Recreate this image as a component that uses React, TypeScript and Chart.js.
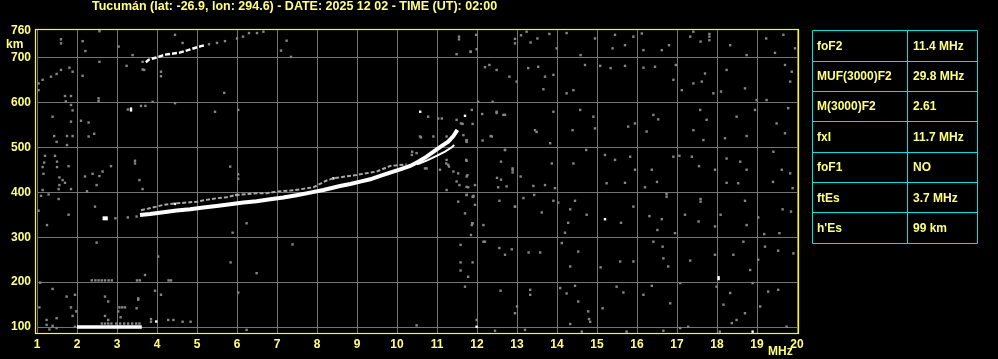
import { useEffect, useRef } from 'react';
import { Chart, registerables } from 'chart.js';

Chart.register(...registerables);

const TITLE = 'Tucumán (lat: -26.9, lon: 294.6) - DATE: 2025 12 02 - TIME (UT): 02:00';
const X_TICKS = [1, 2, 3, 4, 5, 6, 7, 8, 9, 10, 11, 12, 13, 14, 15, 16, 17, 18, 19, 20];
const Y_TICKS = [100, 200, 300, 400, 500, 600, 700, 760];
const X_UNIT = 'MHz';
const Y_UNIT = 'km';
const PARAM_NAMES = ['foF2', 'MUF(3000)F2', 'M(3000)F2', 'fxI', 'foF1', 'ftEs', "h'Es"];
const PARAM_VALUES = ['11.4 MHz', '29.8 MHz', '2.61', '11.7 MHz', 'NO', '3.7 MHz', '99 km'];

type P = [number, number];

// Sporadic-E trace (frequency MHz, virtual height km)
const ES_TRACE: P[] = [[2.0, 100.5], [3.62, 100.5]];
const ES_ECHO: P[] = [[2.64, 342], [2.77, 342]];

// F-layer main trace
const F_MAIN: P[] = [
  [3.575, 349.6], [3.825, 351.8], [4.16, 355.5], [4.49, 359.2], [4.83, 362.2], [5.16, 365.9],
  [5.49, 369.6], [5.83, 373.3], [6.16, 377], [6.49, 380], [6.83, 384.4], [7.16, 388.1],
  [7.49, 393.3], [7.83, 399.2], [8.16, 405.1], [8.575, 414], [8.83, 418.5], [9.08, 423.6],
  [9.33, 428.8], [9.58, 436.2], [9.83, 443.6], [10.08, 451], [10.33, 458.5], [10.53, 468],
  [10.74, 479.2], [10.95, 492.5], [11.12, 502.9], [11.28, 512.5], [11.41, 525.1], [11.51, 538.5],
];
const F_BRANCH: P[] = [
  [10.5, 462], [10.575, 464.4], [10.78, 471.8], [10.99, 480.7], [11.2, 490.3], [11.37, 500], [11.43, 505],
];
const F_UPPER: P[] = [
  [3.6, 360], [3.99, 368], [4.16, 372], [4.49, 375.5], [4.74, 377], [4.99, 379], [5.24, 383],
  [5.49, 386.6], [5.74, 389], [5.99, 394], [6.24, 396], [6.49, 397.7], [6.74, 397.7], [6.99, 401.5],
  [7.33, 403.7], [7.58, 406.6], [7.91, 411], [8.24, 426], [8.41, 431], [8.99, 438.5], [9.49, 446],
  [9.83, 458.5], [10.24, 462],
];
// Multi-hop F echo
const MULTI_HOP: P[] = [
  [3.72, 689], [3.8, 695], [4.0, 700], [4.2, 706], [4.55, 710], [4.7, 714], [5.1, 725], [5.2, 727],
];

const WHITE_DOTS: P[] = [
  [3.35, 586], [3.35, 582], [10.58, 579], [11.7, 570], [15.2, 340], [18.04, 211], [18.04, 207],
  [11.99, 101], [18.89, 90], [3.98, 112.5], [5.99, 394], [8.41, 431], [4.45, 374],
];

const NOISE: P[] = [
  // upper right
  [11.98, 750], [11.84, 713], [12.95, 731], [13.24, 757], [13.1, 749], [13.34, 733], [13.51, 742], [13.81, 752],
  [13.99, 720], [14.24, 754], [14.95, 742], [14.59, 705], [15.45, 750], [15.39, 720], [15.7, 727], [15.91, 746],
  [16.12, 753], [16.16, 716], [16.62, 716], [16.8, 727], [17.33, 746], [17.41, 757], [17.59, 735], [17.81, 746],
  [17.81, 738], [17.81, 752], [18.33, 727], [18.74, 705], [19.23, 742], [19.45, 710], [19.66, 750], [19.95, 720],
  [12.2, 678], [12.31, 683], [12.49, 672], [12.81, 657], [12.99, 646], [13.28, 676], [13.53, 679], [13.7, 657],
  [13.91, 661], [13.66, 629], [14.24, 620], [14.41, 627], [14.7, 683], [15.08, 681], [15.34, 676], [15.7, 681],
  [16.16, 677], [16.45, 679], [16.91, 650], [16.97, 683], [17.12, 627], [17.41, 642], [17.62, 646], [17.7, 664],
  [17.91, 620], [18.1, 624], [18.24, 672], [18.7, 631], [18.99, 605], [19.24, 605], [19.7, 683], [19.87, 668],
  [19.83, 646],
  [11.87, 583], [12.49, 579], [12.66, 572], [12.37, 524], [11.74, 516], [13.45, 538], [13.49, 534], [13.83, 509],
  [13.91, 579], [14.39, 538], [14.58, 583], [14.91, 568], [14.95, 542], [15.95, 553], [15.78, 546], [16.24, 535],
  [16.41, 572], [16.53, 562], [17.41, 538], [17.58, 583], [17.66, 516], [17.74, 561], [18.2, 520], [18.49, 568],
  [18.74, 525], [18.95, 583], [19.49, 553], [19.7, 531], [19.78, 587],
  [11.73, 472], [11.76, 438], [12.7, 494], [12.89, 453], [13.09, 435], [13.87, 464], [14.41, 464], [14.73, 494],
  [15.2, 483], [15.45, 472], [15.83, 479], [15.95, 450], [16.37, 450], [16.91, 479], [17.06, 481], [17.37, 479],
  [17.55, 458], [17.95, 450], [18.24, 475], [18.58, 468], [18.74, 450], [19.41, 490], [19.62, 450], [19.83, 442],
  // lower right
  [11.74, 412], [11.95, 416], [12.53, 411], [12.74, 413], [13.41, 414], [13.7, 416], [13.95, 409], [15.24, 420],
  [15.7, 421], [16.2, 411], [16.5, 423], [16.74, 390], [16.74, 396], [17.59, 379], [17.59, 385], [18.24, 421],
  [18.53, 420], [19.4, 423], [19.89, 409],
  [11.91, 392], [12.56, 381], [12.95, 368], [13.16, 387], [13.43, 394], [13.62, 355], [13.91, 381], [14.03, 377],
  [14.33, 362], [14.45, 381], [14.74, 350], [14.28, 332], [14.2, 310], [15.6, 332], [15.91, 368], [16.31, 347],
  [16.51, 316], [16.62, 340], [16.95, 309], [17.2, 350], [17.54, 335], [17.95, 324], [18.09, 350], [18.7, 381],
  [18.74, 327], [19.03, 344], [19.18, 307], [19.56, 309], [19.64, 362], [19.85, 357],
  [11.88, 331], [12.16, 290], [12.56, 276], [12.7, 261], [12.87, 273], [13.58, 266], [13.29, 266], [14.12, 287],
  [14.33, 235], [14.53, 268], [15.09, 233], [15.58, 246], [15.91, 246], [16.41, 290], [16.64, 279], [16.66, 253],
  [16.78, 235], [17.33, 248], [17.95, 261], [18.41, 261], [18.66, 290], [18.83, 227], [19.03, 250], [19.2, 279],
  [19.53, 270], [19.91, 264],
  [11.7, 190], [12.59, 181], [13.33, 172], [13.0, 146], [12.95, 131], [13.33, 183], [14.08, 187], [14.24, 175],
  [14.45, 192], [14.53, 157], [14.78, 135], [14.83, 112], [14.8, 118], [15.14, 142], [15.49, 190], [15.66, 177],
  [16.16, 172], [16.37, 192], [16.83, 153], [17.08, 198], [17.28, 101], [17.99, 190], [18.16, 150], [18.33, 176],
  [18.49, 116], [18.7, 131], [18.89, 198], [19.08, 146], [19.28, 179], [19.53, 183], [19.74, 101],
  [12.45, 92], [13.2, 94], [14.33, 107], [14.62, 90], [15.74, 90], [16.66, 92], [17.08, 98], [18.07, 90], [18.37, 109],
  // upper left
  [1.6, 740], [1.6, 731], [2.14, 736], [2.21, 714], [2.56, 758], [3.04, 724], [3.39, 705], [2.56, 690], [3.64, 690],
  [3.68, 672], [3.24, 681], [1.81, 677], [1.89, 668], [1.6, 672], [1.49, 663], [1.35, 657], [1.14, 650], [1.04, 642],
  [1.04, 627], [2.14, 659], [1.7, 614], [1.85, 614], [1.72, 602], [1.85, 594], [1.89, 582], [2.54, 609], [2.54, 603],
  [1.39, 568], [1.85, 557], [2.1, 559], [2.29, 555], [2.43, 530], [2.29, 524], [1.43, 525], [1.49, 512], [1.75, 525],
  [1.89, 525], [1.75, 505], [3.27, 584], [3.6, 592], [3.71, 592],
  [1.2, 481], [1.18, 466], [1.45, 481], [1.5, 468], [1.14, 456], [1.16, 441], [1.5, 456], [1.79, 458], [1.56, 433],
  [1.64, 427], [1.7, 421], [1.56, 416], [1.54, 407], [1.85, 407], [1.14, 405], [2.2, 435], [2.39, 441], [2.56, 436],
  [2.64, 446], [2.85, 458], [2.49, 416], [2.25, 402], [3.45, 470], [3.45, 464], [3.56, 427], [3.64, 407], [1.1, 392],
  [1.29, 395], [1.54, 385], [1.04, 359], [1.79, 350], [1.25, 327], [2.45, 368], [2.96, 342], [3.27, 344], [3.49, 346],
  [4.45, 750], [4.64, 732], [7.24, 737], [7.1, 715], [7.35, 701], [11.55, 746], [11.55, 740], [11.49, 707],
  [11.84, 712], [11.99, 718], [12.95, 741],
  [3.64, 673], [4.1, 668], [4.1, 658], [5.68, 621], [5.45, 579], [4.45, 598], [3.89, 601], [6.03, 583],
  [5.3, 729], [5.5, 732], [5.7, 736], [6.0, 742], [6.15, 746], [6.3, 754], [6.5, 754], [6.66, 757],
  // lower left
  [1.08, 199], [1.39, 185], [1.74, 168], [1.95, 172], [1.06, 144], [1.85, 144], [1.89, 125], [1.98, 135], [1.24, 116],
  [1.49, 120], [1.24, 105], [1.31, 95], [1.39, 103], [1.49, 98], [1.95, 101], [2.7, 168], [2.78, 157], [2.7, 125],
  [2.78, 116], [3.03, 135], [3.09, 122], [3.06, 144], [3.13, 144], [3.2, 144], [3.49, 142], [3.53, 161], [3.53, 164],
  [3.95, 181], [4.1, 172], [3.85, 112], [3.85, 118], [4.28, 116], [4.41, 116], [4.64, 112], [4.84, 112], [6.03, 177],
  [6.24, 94], [2.49, 288], [3.7, 216], [4.03, 257], [5.89, 310], [5.84, 244], [6.24, 331], [6.49, 220], [7.39, 284],
  [10.49, 104], [11.59, 283], [11.74, 394], [11.89, 390], [11.95, 372], [11.89, 331], [11.85, 305], [12.16, 327],
  [12.2, 290], [11.59, 244], [11.89, 244], [11.59, 226], [11.78, 212], [11.99, 116],
  [2.37, 204], [2.46, 204], [2.54, 204], [2.62, 204], [2.7, 204], [2.79, 204], [2.87, 204], [3.5, 204], [3.57, 204],
  [4.29, 204], [4.35, 204],
  [2.62, 108], [2.7, 108], [2.78, 108], [2.86, 108], [2.98, 108], [3.08, 108], [3.18, 108], [3.28, 108], [3.38, 108],
  [3.48, 108], [3.56, 108],
  // around the F trace
  [10.78, 568], [11.03, 564], [11.12, 564], [11.49, 561], [11.64, 552], [11.89, 552], [11.74, 515], [10.6, 522],
  [11.24, 524], [12.03, 601], [12.39, 601], [12.13, 574], [12.49, 576], [12.7, 572], [12.34, 525], [12.14, 515],
  [12.7, 494], [12.6, 468], [12.89, 450], [12.89, 444], [12.5, 432], [12.6, 428], [12.95, 368], [11.74, 470],
  [11.23, 464], [11.3, 457], [11.53, 442], [11.74, 435], [11.78, 411], [11.56, 416], [11.91, 390], [11.74, 394],
  [11.53, 379], [11.7, 353], [11.87, 327], [10.38, 490], [10.74, 453], [11.6, 553], [11.66, 527], [11.74, 512],
  [11.24, 472], [11.28, 461], [11.41, 446], [10.91, 524], [10.575, 524], [10.37, 483], [10.49, 487], [11.075, 450],
  [10.7, 453], [11.24, 405], [11.49, 424], [6.03, 430], [6.03, 440], [5.83, 457],
];

const YELLOW = '#ffff80';
const FONT_FAMILY = '"Liberation Sans", Arial, sans-serif';

export default function App() {
  const ref = useRef<HTMLCanvasElement>(null);

  useEffect(() => {
    const canvas = ref.current!;
    const pts = (arr: P[]) => arr.map(([x, y]) => ({ x, y }));
    const lineDs = (data: P[], color: string, width: number, dash: number[] = []) => ({
      data: pts(data),
      showLine: true,
      borderColor: color,
      backgroundColor: color,
      borderWidth: width,
      borderDash: dash,
      pointRadius: 0,
      tension: 0,
      borderCapStyle: 'butt' as const,
    });
    const dotDs = (data: P[], color: string, r: number) => ({
      data: pts(data),
      showLine: false,
      pointStyle: 'rect' as const,
      pointRadius: r,
      backgroundColor: color,
      borderWidth: 0,
    });

    const overlay = {
      id: 'overlay',
      afterDraw(chart: any) {
        const { ctx, chartArea } = chart;
        ctx.save();
        // yellow frame
        ctx.strokeStyle = '#ffff00';
        ctx.lineWidth = 1.2;
        ctx.strokeRect(chartArea.left - 1.5, chartArea.top + 0.5, chartArea.right - chartArea.left + 3, chartArea.bottom - chartArea.top);
        // title and units
        ctx.fillStyle = YELLOW;
        ctx.textBaseline = 'middle';
        ctx.textAlign = 'left';
        ctx.font = `bold 12.5px ${FONT_FAMILY}`;
        ctx.fillText(TITLE, 92, 7);
        ctx.font = `bold 12px ${FONT_FAMILY}`;
        ctx.fillText(Y_UNIT, 6, 45);
        ctx.fillText(X_UNIT, 768, 352);
        // parameter table
        const x0 = 812.5, x1 = 977.5, xm = 907.5, y0 = 30.3, rh = 30.35;
        ctx.strokeStyle = '#00e0e0';
        ctx.lineWidth = 1;
        ctx.beginPath();
        for (let i = 0; i <= PARAM_NAMES.length; i++) {
          const y = Math.round(y0 + i * rh) + 0.5;
          ctx.moveTo(x0, y);
          ctx.lineTo(x1, y);
        }
        const yb = Math.round(y0 + PARAM_NAMES.length * rh) + 0.5;
        const yt = Math.round(y0) + 0.5;
        [x0, xm, x1].forEach((x) => {
          ctx.moveTo(x, yt);
          ctx.lineTo(x, yb);
        });
        ctx.stroke();
        ctx.fillStyle = YELLOW;
        ctx.font = `bold 12px ${FONT_FAMILY}`;
        PARAM_NAMES.forEach((name, i) => {
          const yc = y0 + (i + 0.5) * rh + 1;
          ctx.fillText(name, 817, yc);
          ctx.fillText(PARAM_VALUES[i], 913, yc);
        });
        ctx.restore();
      },
    };

    const tickFont = { family: FONT_FAMILY, size: 12, weight: 'bold' as const };

    const chart = new Chart(canvas, {
      type: 'scatter',
      data: {
        datasets: [
          dotDs(NOISE, '#858585', 1.7),
          lineDs(F_UPPER, '#a8a8a8', 2, [4, 2]),
          lineDs(MULTI_HOP, '#ffffff', 2.5, [5, 2]),
          lineDs(ES_TRACE, '#ffffff', 3.5),
          lineDs(ES_ECHO, '#ffffff', 4),
          lineDs(F_MAIN, '#ffffff', 4),
          lineDs(F_BRANCH, '#ffffff', 2),
          dotDs(WHITE_DOTS, '#ffffff', 1.7),
        ] as any,
      },
      options: {
        responsive: false,
        animation: false,
        events: [],
        layout: { padding: { left: 0, right: 201, top: 29, bottom: 0 } },
        plugins: {
          legend: { display: false },
          tooltip: { enabled: false },
          title: { display: false },
        },
        scales: {
          x: {
            type: 'linear',
            min: 1,
            max: 20,
            afterBuildTicks: (s: any) => {
              s.ticks = X_TICKS.map((v) => ({ value: v }));
            },
            afterFit: (s: any) => {
              s.height = 26;
            },
            grid: { color: '#747474', lineWidth: 1, drawTicks: false },
            border: { display: false },
            ticks: {
              color: YELLOW,
              font: tickFont,
              padding: 4,
              autoSkip: false,
              maxRotation: 0,
              callback: (v: any) => String(v),
            },
          },
          y: {
            type: 'linear',
            min: 87,
            max: 763,
            afterBuildTicks: (s: any) => {
              s.ticks = Y_TICKS.map((v) => ({ value: v }));
            },
            afterFit: (s: any) => {
              s.width = 37;
            },
            grid: {
              color: (c: any) => (c.tick && c.tick.value === 760 ? 'rgba(0,0,0,0)' : '#747474'),
              lineWidth: 1,
              drawTicks: false,
            },
            border: { display: false },
            ticks: {
              color: YELLOW,
              font: tickFont,
              padding: 6,
              autoSkip: false,
              callback: (v: any) => String(v),
            },
          },
        },
      } as any,
      plugins: [overlay],
    });
    return () => chart.destroy();
  }, []);

  return (
    <div style={{ position: 'fixed', left: 0, top: 0, width: 998, height: 359, background: '#000' }}>
      <canvas ref={ref} width={998} height={359} style={{ display: 'block', width: 998, height: 359 }} />
    </div>
  );
}
